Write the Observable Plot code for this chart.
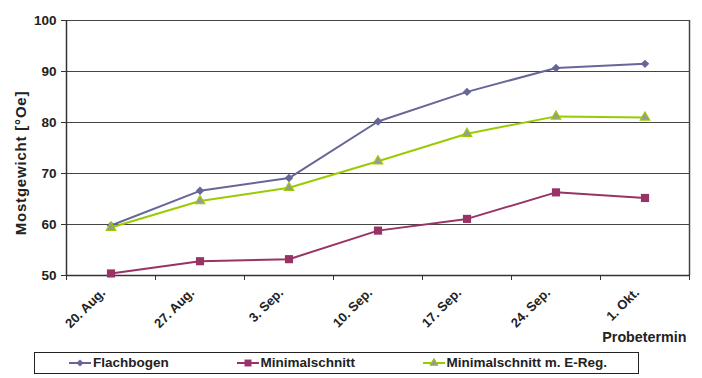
<!DOCTYPE html>
<html>
<head>
<meta charset="utf-8">
<script src="https://cdn.jsdelivr.net/npm/d3@7"></script>
<script src="https://cdn.jsdelivr.net/npm/@observablehq/plot@0.6"></script>
<style>
  body { margin: 0; background: #fff; font-family: "Liberation Sans", Arial, sans-serif; }
  #wrap { position: relative; width: 702px; height: 378px; }
  #legend { position: absolute; left: 34px; top: 352px; width: 603px; height: 20px;
    border: 1.5px solid #222; font-weight: bold; font-size: 13.5px; color: #222; }
  #legend .item { position: absolute; top: 2px; display: flex; align-items: center; gap: 2px; }
  #legend svg { display: block; }
</style>
</head>
<body>
<div id="wrap"><div id="chart"></div><div id="legend"></div></div>
<script>
const dates = ["20. Aug.", "27. Aug.", "3. Sep.", "10. Sep.", "17. Sep.", "24. Sep.", "1. Okt."];
const flachbogen = [59.8, 66.6, 69.1, 80.2, 86.0, 90.7, 91.5];
const minimalschnitt = [50.4, 52.8, 53.2, 58.8, 61.1, 66.3, 65.2];
const minimalschnittEReg = [59.4, 64.6, 67.2, 72.4, 77.8, 81.2, 81.0];
const seriesNames = ["Flachbogen", "Minimalschnitt", "Minimalschnitt m. E-Reg."];
const yTicks = [50, 60, 70, 80, 90, 100];

const colors = { "Flachbogen": "#666699", "Minimalschnitt": "#993366", "Minimalschnitt m. E-Reg.": "#99cc00" };
const symbols = { "Flachbogen": "diamond2", "Minimalschnitt": "square", "Minimalschnitt m. E-Reg.": "triangle" };
const fills = { "Flachbogen": "#666699", "Minimalschnitt": "#993366", "Minimalschnitt m. E-Reg.": "#999999" };
const strokes = { "Flachbogen": "none", "Minimalschnitt": "none", "Minimalschnitt m. E-Reg.": "#99cc00" };
const radii = { "Flachbogen": 3.8, "Minimalschnitt": 4.6, "Minimalschnitt m. E-Reg.": 3.5 };

const rows = [];
[flachbogen, minimalschnitt, minimalschnittEReg].forEach((vals, s) => {
  vals.forEach((v, i) => rows.push({ series: seriesNames[s], i, value: v }));
});

const boundaries = d3.range(-0.5, dates.length, 1);
const font = "Liberation Sans, Arial, sans-serif";

const marks = [
  Plot.ruleY(yTicks.filter(t => t > 50), { stroke: "#444", strokeWidth: 1 }),
  Plot.ruleX([-0.5], { stroke: "#333", strokeWidth: 1.5 }),
  Plot.ruleX([6.5], { stroke: "#444", strokeWidth: 1.5 }),
  Plot.ruleY([50], { stroke: "#333", strokeWidth: 1.5 }),
  Plot.axisY({ ticks: yTicks, tickSize: 5, tickPadding: 5, fontSize: 13.5, fontWeight: "bold", label: null, stroke: "#333", fill: "#222" }),
  Plot.axisX({ ticks: boundaries, tickSize: 5, tickFormat: () => "", label: null, stroke: "#333" }),
  Plot.axisX({ ticks: d3.range(dates.length), tickSize: 0, tickPadding: 7, tickRotate: -45, dx: -8, dy: 8,
    tickFormat: i => dates[i], fontSize: 13, fontWeight: "bold", label: null, textAnchor: "end", fill: "#222" }),
  Plot.text(["Mostgewicht [°Oe]"], { frameAnchor: "left", textAnchor: "middle", rotate: -90, dx: -45, dy: 15,
    fontSize: 15, fontWeight: "bold", fill: "#222" }),
  Plot.text(["Probetermin"], { frameAnchor: "bottom-right", dy: 66, dx: -3, textAnchor: "end", fontSize: 14.3, fontWeight: "bold", fill: "#222" })
];
seriesNames.forEach(name => {
  const d = rows.filter(r => r.series === name);
  marks.push(Plot.line(d, { x: "i", y: "value", stroke: colors[name], strokeWidth: 2 }));
  marks.push(Plot.dot(d, { x: "i", y: "value", symbol: () => symbols[name], r: radii[name],
    fill: fills[name], stroke: strokes[name], strokeWidth: 1.2 }));
});

const chart = Plot.plot({
  width: 702,
  height: 350,
  marginLeft: 66,
  marginRight: 13,
  marginTop: 20,
  marginBottom: 75,
  style: { fontFamily: font, color: "#222", background: "#fff", fontSize: "13px" },
  x: { type: "linear", domain: [-0.5, 6.5], axis: null },
  y: { domain: [50, 100], axis: null },
  symbol: { type: "identity" },
  marks
});
document.getElementById("chart").appendChild(chart);
chart.querySelectorAll("text").forEach(t => {
  const txt = t.textContent;
  if (txt === "Mostgewicht [°Oe]") { t.setAttribute("letter-spacing", "0.8"); }
  if (dates.includes(txt)) { t.setAttribute("font-size", "13"); t.setAttribute("font-weight", "bold"); }
  if (yTicks.map(String).includes(txt)) { t.setAttribute("font-size", "13.5"); t.setAttribute("font-weight", "bold"); }
});

// Legend
const legend = document.getElementById("legend");
const legendX = [34, 201.5, 387.5];
const symbolTypes = { diamond2: d3.symbolDiamond2, square: d3.symbolSquare, triangle: d3.symbolTriangle };
seriesNames.forEach((name, k) => {
  const item = document.createElement("div");
  item.className = "item";
  item.style.left = legendX[k] + "px";
  const r = radii[name] * 0.85;
  const sym = d3.symbol(symbolTypes[symbols[name]], Math.PI * r * r)();
  item.innerHTML = `<svg width="22" height="14"><line x1="0" x2="22" y1="7" y2="7" stroke="${colors[name]}" stroke-width="2"/>
    <path transform="translate(11,7)" d="${sym}" fill="${fills[name]}" stroke="${strokes[name]}"/></svg><span>${name}</span>`;
  legend.appendChild(item);
});
</script>
</body>
</html>
